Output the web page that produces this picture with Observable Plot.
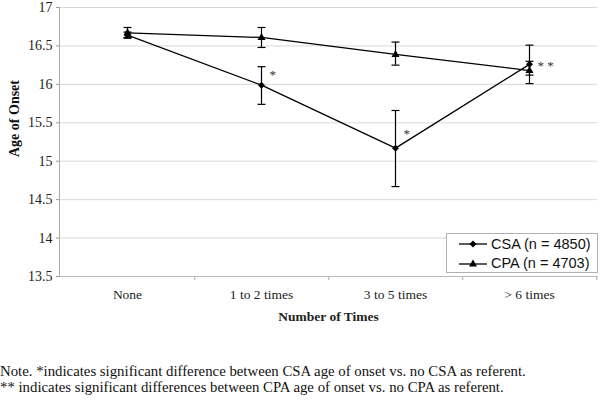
<!DOCTYPE html>
<html><head><meta charset="utf-8">
<script src="https://cdn.jsdelivr.net/npm/d3@7"></script>
<script src="https://cdn.jsdelivr.net/npm/@observablehq/plot@0.6"></script>
<style>
body{margin:0;background:#fff;font-family:"Liberation Serif",serif;}
#wrap{position:relative;width:600px;}
#legend{position:absolute;left:446px;top:233px;width:150px;height:38px;border:1px solid #b0b0b0;background:#fff;font-family:"Liberation Sans",Arial,sans-serif;font-size:14.5px;color:#111;}
#legend div{display:flex;align-items:center;height:19px;padding-left:12px;}
#legend svg{margin-right:4px;}
#note{font-size:14.8px;line-height:16px;color:#111;margin-top:23px;white-space:nowrap;}
</style></head><body>
<div id="wrap"><div id="chart"></div>
<div id="legend">
<div><svg width="28" height="10"><line x1="0" y1="5" x2="28" y2="5" stroke="#000" stroke-width="1.3"/><path d="M14,1.5L17.5,5L14,8.5L10.5,5Z" fill="#000"/></svg>CSA (n = 4850)</div>
<div><svg width="28" height="10"><line x1="0" y1="6" x2="28" y2="6" stroke="#000" stroke-width="1.3"/><path d="M14,1.5L18,8.5L10,8.5Z" fill="#000"/></svg>CPA (n = 4703)</div>
</div>
<div id="note">Note. *indicates significant difference between CSA age of onset vs. no CSA as referent.<br>** indicates significant differences between CPA age of onset vs. no CPA as referent.</div>
</div>
<script>
const categories = ["None", "1 to 2 times", "3 to 5 times", "> 6 times"];
const csaMean = [16.64, 15.99, 15.17, 16.26];
const csaLow  = [16.60, 15.74, 14.67, 16.01];
const csaHigh = [16.68, 16.23, 15.66, 16.51];
const cpaMean = [16.67, 16.61, 16.39, 16.18];
const cpaLow  = [16.61, 16.48, 16.25, 16.12];
const cpaHigh = [16.74, 16.74, 16.55, 16.30];
const stars = [{cat:"1 to 2 times", v:16.12, s:"*"}, {cat:"3 to 5 times", v:15.35, s:"*"}, {cat:"> 6 times", v:16.24, s:"* *"}];
const yTicks = [13.5, 14, 14.5, 15, 15.5, 16, 16.5, 17];

const rows = [];
categories.forEach((c,i)=>{
  rows.push({cat:c, series:"CSA", m:csaMean[i], lo:csaLow[i], hi:csaHigh[i]});
  rows.push({cat:c, series:"CPA", m:cpaMean[i], lo:cpaLow[i], hi:cpaHigh[i]});
});
const cap = {draw(ctx){ctx.moveTo(-4,0);ctx.lineTo(4,0);}};
const diamond = {draw(ctx){ctx.moveTo(0,-3.5);ctx.lineTo(3.5,0);ctx.lineTo(0,3.5);ctx.lineTo(-3.5,0);ctx.closePath();}};
const tri = {draw(ctx){ctx.moveTo(0,-4.5);ctx.lineTo(4,2.5);ctx.lineTo(-4,2.5);ctx.closePath();}};

const chart = Plot.plot({
  width: 600, height: 340,
  marginLeft: 59, marginRight: 3, marginTop: 7, marginBottom: 64,
  style: {fontFamily: '"Liberation Serif", serif', fontSize: "14px", color: "#222", background: "#fff"},
  x: {type: "band", domain: categories, padding: 0},
  y: {domain: [13.5, 17]},
  marks: [
    Plot.gridY(yTicks, {stroke: "#d9d9d9", strokeOpacity: 1}),
    Plot.axisY(yTicks, {tickSize: 3, stroke: "#999", tickPadding: 4, fontSize: 14, tickFormat: d => String(d), label: null}),
    Plot.text(["Age of Onset"], {frameAnchor: "left", rotate: -90, dx: -45, dy: 15, fontWeight: "bold", fontSize: 14, fill: "#111"}),
    Plot.axisX({tickSize: 0, tickPadding: 13, fontSize: 13.5, label: "Number of Times", labelAnchor: "center", labelArrow: "none", labelOffset: 44}),
    Plot.axisX({tickSize: 4, stroke: "#aaa", tickFormat: () => "", dx: 67.25, label: null}),
    Plot.frame({anchor: "left", stroke: "#aaa"}),
    Plot.frame({anchor: "bottom", stroke: "#bbb"}),
    Plot.line(rows, {x: "cat", y: "m", z: "series", stroke: "#000", strokeWidth: 1.3}),
    Plot.ruleX(rows, {x: "cat", y1: "lo", y2: "hi", stroke: "#000", strokeWidth: 1.2}),
    Plot.dot(rows, {x: "cat", y: "lo", symbol: () => cap, r: 4, stroke: "#000", strokeWidth: 1.2, fill: "none"}),
    Plot.dot(rows, {x: "cat", y: "hi", symbol: () => cap, r: 4, stroke: "#000", strokeWidth: 1.2, fill: "none"}),
    Plot.dot(rows.filter(d=>d.series==="CSA"), {x: "cat", y: "m", symbol: () => diamond, r: 4, fill: "#000", stroke: "none"}),
    Plot.dot(rows.filter(d=>d.series==="CPA"), {x: "cat", y: "m", symbol: () => tri, r: 4, fill: "#000", stroke: "none"}),
    Plot.text(stars, {x: "cat", y: "v", text: "s", dx: 8, textAnchor: "start", fontSize: 13, fill: "#333"})
  ]
});
document.getElementById("chart").appendChild(chart);
chart.querySelectorAll('[aria-label="x-axis label"] text').forEach(t=>{t.setAttribute("font-weight","bold");});
</script>
</body></html>
